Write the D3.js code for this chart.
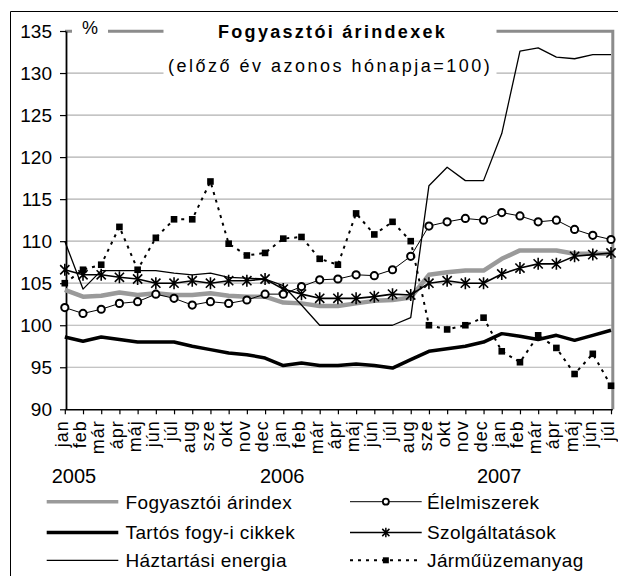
<!DOCTYPE html>
<html><head><meta charset="utf-8">
<script src="https://cdn.jsdelivr.net/npm/d3@7"></script>
<style>
body{margin:0;background:#fff}
svg{display:block}
text{font-family:"Liberation Sans",Arial,sans-serif;fill:#000}
</style>
</head><body>
<svg id="c" width="618" height="576"></svg>
<script>
// ---- data ----
const months = ["jan","feb","már","ápr","máj","jún","júl","aug","sze","okt","nov","dec",
                "jan","feb","már","ápr","máj","jún","júl","aug","sze","okt","nov","dec",
                "jan","feb","már","ápr","máj","jún","júl"];
const years = ["2005","2006","2007"];
const yTicks = [90,95,100,105,110,115,120,125,130,135];
const seriesNames = ["Fogyasztói árindex","Tartós fogy-i cikkek","Háztartási energia","Élelmiszerek","Szolgáltatások","Járműüzemanyag"];
const fogyasztoi = [104.2,103.4,103.5,103.9,103.6,103.8,103.6,103.6,103.8,103.5,103.4,103.4,
                    102.7,102.6,102.3,102.3,102.6,102.9,103.0,103.3,106.0,106.3,106.5,106.5,
                    107.9,108.9,108.9,108.9,108.5,108.5,108.5];
const tartos = [98.6,98.1,98.6,98.3,98.0,98.0,98.0,97.5,97.1,96.7,96.5,96.1,
                95.2,95.5,95.2,95.2,95.4,95.2,94.9,95.9,96.9,97.2,97.5,98.0,
                99.0,98.7,98.3,98.8,98.2,98.8,99.4];
const energia = [110.0,104.3,106.5,106.5,106.5,106.5,106.2,106.0,106.2,105.7,105.6,105.5,
                 104.7,102.4,100.0,100.0,100.0,100.0,100.0,100.9,116.6,118.8,117.2,117.2,
                 122.8,132.6,133.0,131.9,131.7,132.2,132.2];
const elelmiszer = [102.1,101.4,101.9,102.6,102.8,103.7,103.2,102.4,102.8,102.6,103.0,103.7,
                    103.7,104.6,105.4,105.5,106.0,105.9,106.6,108.2,111.8,112.3,112.7,112.5,
                    113.4,113.0,112.3,112.5,111.4,110.7,110.2];
const szolg = [106.6,106.0,106.0,105.7,105.5,105.0,105.0,105.3,105.0,105.3,105.3,105.5,
               104.3,103.7,103.2,103.2,103.2,103.4,103.7,103.6,105.0,105.3,105.0,105.0,
               106.1,106.8,107.3,107.3,108.2,108.4,108.6];
const jarmu = [105.0,106.6,107.2,111.7,106.6,110.4,112.6,112.6,117.1,109.7,108.3,108.6,
               110.3,110.5,107.9,107.2,113.3,110.8,112.3,110.0,100.0,99.5,100.0,100.9,
               96.9,95.6,98.8,97.3,94.2,96.6,92.8];

// ---- setup ----
const svg = d3.select("#c");
const x = d3.scaleLinear().domain([0, months.length - 1]).range([64.8, 611]);
const y = d3.scaleLinear().domain([90, 135]).range([409.3, 31]);
const plotL = 66, plotR = 612.8;

// outer frame (top & left visible)
svg.append("path").attr("d","M10.5,576V11.5H618").attr("fill","none").attr("stroke","#000").attr("stroke-width",1);

// gridlines
svg.append("g").selectAll("line").data(yTicks.filter(v => v > 90 && v < 135)).join("line")
  .attr("x1", plotL).attr("x2", plotR).attr("y1", d => y(d)).attr("y2", d => y(d))
  .attr("stroke", "#b0b0b0").attr("stroke-width", 1.2);

// plot frame top/right (gray)
svg.append("path").attr("d", `M${plotL-1},${y(135)+0.3}H${plotR}V${y(90)}`)
  .attr("fill","none").attr("stroke","#8c8c8c").attr("stroke-width",3);

// white boxes for % and title
svg.append("rect").attr("x",72).attr("y",16).attr("width",36).attr("height",26).attr("fill","#fff");
svg.append("rect").attr("x",163.5).attr("y",14).attr("width",333).attr("height",68).attr("fill","#fff");

// y axis
const yAxis = svg.append("g").attr("transform", `translate(${plotL},0)`)
  .call(d3.axisLeft(y).tickValues(yTicks).tickSize(6).tickSizeOuter(0).tickPadding(8));
yAxis.select(".domain").attr("stroke","#000").attr("stroke-width",1.8);
yAxis.selectAll(".tick line").attr("stroke","#000").attr("stroke-width",1.2);
yAxis.selectAll("text").style("font-size","19px").style("font-family",'"Liberation Sans",Arial,sans-serif').attr("fill","#000");

// x axis
const xAxis = svg.append("g").attr("transform", `translate(0,${y(90)})`)
  .call(d3.axisBottom(x).tickValues(d3.range(months.length)).tickFormat(i => months[i]).tickSize(5).tickSizeOuter(0));
xAxis.select(".domain").attr("stroke","#000").attr("stroke-width",1.5).attr("d", `M${plotL},0.5H${plotR}`);
xAxis.selectAll(".tick line").attr("stroke","#000").attr("stroke-width",1.2);
xAxis.selectAll("text")
  .style("font-size","18px").style("font-family",'"Liberation Sans",Arial,sans-serif').style("letter-spacing","1px")
  .attr("fill","#000")
  .attr("transform","rotate(-90)").attr("x",-11).attr("y",0).attr("dy","2.6px")
  .style("text-anchor","end");

// year labels
svg.append("g").selectAll("text").data(years).join("text")
  .attr("x", (d,i) => [51.7, 260, 477][i]).attr("y", 483)
  .style("font-size","20px").text(d => d);

// titles
svg.append("text").attr("x",82).attr("y",33.5).style("font-size","18px").text("%");
svg.append("text").attr("x",218).attr("y",37.5).style("font-size","18px").style("font-weight","bold")
  .style("letter-spacing","2.3px").text("Fogyasztói árindexek");
svg.append("text").attr("x",168).attr("y",71.5).style("font-size","18px")
  .style("letter-spacing","2.5px").text("(előző év azonos hónapja=100)");

// ---- series ----
const line = d3.line().x((d,i) => x(i)).y(d => y(d));
const starPath = "M-4.6,-4.6L4.6,4.6M-4.6,4.6L4.6,-4.6M0,-6V6";
const smallStar = "M-3.6,-3.6L3.6,3.6M-3.6,3.6L3.6,-3.6M0,-4.8V4.8";

const series = [
  {name: seriesNames[0], data: fogyasztoi, stroke:"#9a9a9a", width:4.5, dash:null, marker:null},
  {name: seriesNames[1], data: tartos,     stroke:"#000", width:3.5, dash:null, marker:null},
  {name: seriesNames[2], data: energia,    stroke:"#000", width:1.3, dash:null, marker:null},
  {name: seriesNames[4], data: szolg,      stroke:"#000", width:1.6, dash:null, marker:"star"},
  {name: seriesNames[3], data: elelmiszer, stroke:"#000", width:1,   dash:null, marker:"circle"},
  {name: seriesNames[5], data: jarmu,      stroke:"#000", width:2,   dash:"3,5", marker:"square"}
];

const gS = svg.append("g");
series.forEach(s => {
  gS.append("path").datum(s.data).attr("d", line).attr("fill","none")
    .attr("stroke", s.stroke).attr("stroke-width", s.width)
    .attr("stroke-dasharray", s.dash).attr("stroke-linejoin","round");
  if (s.marker === "circle") {
    gS.append("g").selectAll("circle").data(s.data).join("circle")
      .attr("cx",(d,i)=>x(i)).attr("cy",d=>y(d)).attr("r",3.6)
      .attr("fill","#fff").attr("stroke","#000").attr("stroke-width",2);
  } else if (s.marker === "star") {
    gS.append("g").selectAll("path").data(s.data).join("path")
      .attr("transform",(d,i)=>`translate(${x(i)},${y(d)})`).attr("d",starPath)
      .attr("fill","none").attr("stroke","#000").attr("stroke-width",1.6);
  } else if (s.marker === "square") {
    gS.append("g").selectAll("rect").data(s.data).join("rect")
      .attr("x",(d,i)=>x(i)-3.3).attr("y",d=>y(d)-3.3).attr("width",6.6).attr("height",6.6)
      .attr("fill","#000");
  }
});

// ---- legend ----
const legendItems = [
  {s: series[0], col:0, row:0},
  {s: series[1], col:0, row:1},
  {s: series[2], col:0, row:2},
  {s: series[4], col:1, row:0},
  {s: series[3], col:1, row:1},
  {s: series[5], col:1, row:2}
];
const rowY = [501.7, 532.5, 560.3];
const colX = [[46.7,118.3,125.5],[350,421.7,427]];
const gL = svg.append("g");
legendItems.forEach(it => {
  const [x1,x2,tx] = colX[it.col], yy = rowY[it.row], s = it.s;
  const lw = s.width > 3 ? 3.6 : s.width;
  gL.append("line").attr("x1",x1).attr("x2",x2).attr("y1",yy).attr("y2",yy)
    .attr("stroke", s.stroke).attr("stroke-width", lw).attr("stroke-dasharray", s.dash);
  const mx = (x1+x2)/2;
  if (s.marker === "circle") gL.append("circle").attr("cx",mx).attr("cy",yy).attr("r",3).attr("fill","#fff").attr("stroke","#000").attr("stroke-width",1.8);
  if (s.marker === "star") gL.append("path").attr("transform",`translate(${mx},${yy})`).attr("d",smallStar).attr("fill","none").attr("stroke","#000").attr("stroke-width",1.5);
  if (s.marker === "square") gL.append("rect").attr("x",mx-3).attr("y",yy-3).attr("width",6).attr("height",6).attr("fill","#000");
  gL.append("text").attr("x",tx).attr("y",yy+6.8).style("font-size","19px").style("letter-spacing","0.4px").text(s.name);
});
</script>
</body></html>
